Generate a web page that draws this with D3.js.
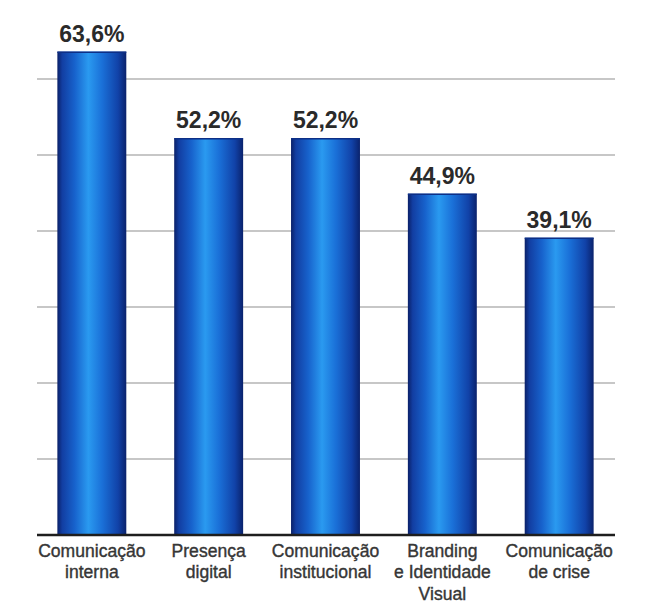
<!DOCTYPE html>
<html>
<head>
<meta charset="utf-8">
<script src="https://cdn.jsdelivr.net/npm/d3@7"></script>
<style>
  body { margin: 0; background: #fff; }
  svg { display: block; }
</style>
</head>
<body>
<div id="chart"></div>
<script>
// data
const categories = [
  ['Comunicação', 'interna'],
  ['Presença', 'digital'],
  ['Comunicação', 'institucional'],
  ['Branding', 'e Identidade', 'Visual'],
  ['Comunicação', 'de crise']
];
const values = [63.6, 52.2, 52.2, 44.9, 39.1];
const valueLabels = ['63,6%', '52,2%', '52,2%', '44,9%', '39,1%'];
const gridTicks = [10, 20, 30, 40, 50, 60];

const width = 654, height = 605;
const baseY = 535;

const svg = d3.select('#chart').append('svg')
  .attr('width', width)
  .attr('height', height);

// bar shading, dark edges with a light stripe
const grad = svg.append('defs').append('linearGradient')
  .attr('id', 'barGrad')
  .attr('x1', 0).attr('x2', 1).attr('y1', 0).attr('y2', 0);
[[0, '#0a2068'], [0.07, '#123ea2'], [0.25, '#1762cc'], [0.45, '#2a9af0'],
 [0.65, '#1a70d8'], [0.88, '#1142a8'], [1, '#0a226c']]
  .forEach(s => grad.append('stop').attr('offset', s[0]).attr('stop-color', s[1]));

const x = d3.scaleBand()
  .domain(d3.range(values.length))
  .range([34, 617])
  .paddingInner(0.41)
  .paddingOuter(0.2);

const y = d3.scaleLinear()
  .domain([0, 70])
  .range([baseY, baseY - 7.6 * 70]);

// gridlines
svg.append('g')
  .selectAll('line')
  .data(gridTicks)
  .enter().append('line')
  .attr('x1', 37).attr('x2', 615)
  .attr('y1', d => y(d)).attr('y2', d => y(d))
  .attr('stroke', '#b4b4b4')
  .attr('stroke-width', 1.5);

// bars
svg.append('g')
  .selectAll('rect')
  .data(values)
  .enter().append('rect')
  .attr('x', (d, i) => x(i))
  .attr('y', d => y(d))
  .attr('width', x.bandwidth())
  .attr('height', d => baseY - y(d))
  .attr('fill', 'url(#barGrad)');

// thin dark top edge
svg.append('g')
  .selectAll('line')
  .data(values)
  .enter().append('line')
  .attr('x1', (d, i) => x(i)).attr('x2', (d, i) => x(i) + x.bandwidth())
  .attr('y1', d => y(d) + 0.5).attr('y2', d => y(d) + 0.5)
  .attr('stroke', '#0d2f86')
  .attr('stroke-width', 1.5);

// baseline
svg.append('line')
  .attr('x1', 37).attr('x2', 615)
  .attr('y1', baseY).attr('y2', baseY)
  .attr('stroke', '#1e1e1e')
  .attr('stroke-width', 2.5);

// value labels
svg.append('g')
  .selectAll('text')
  .data(values)
  .enter().append('text')
  .attr('x', (d, i) => x(i) + x.bandwidth() / 2)
  .attr('y', d => y(d) - 10)
  .attr('text-anchor', 'middle')
  .attr('font-family', 'Liberation Sans, Arial, sans-serif')
  .attr('font-weight', 'bold')
  .attr('font-size', 23)
  .attr('fill', '#2a2a2a')
  .text((d, i) => valueLabels[i]);

// category labels, slightly squeezed like a condensed face
const cat = svg.append('g')
  .selectAll('text')
  .data(categories)
  .enter().append('text')
  .attr('transform', (d, i) => `translate(${x(i) + x.bandwidth() / 2},0) scale(0.95,1)`)
  .attr('text-anchor', 'middle')
  .attr('font-family', 'Liberation Sans, Arial, sans-serif')
  .attr('font-size', 18.5)
  .attr('fill', '#363636')
  .attr('stroke', '#363636')
  .attr('stroke-width', 0.4);

cat.selectAll('tspan')
  .data(d => d)
  .enter().append('tspan')
  .attr('x', 0)
  .attr('y', (d, j) => 557 + j * 21.5)
  .text(d => d);
</script>
</body>
</html>
